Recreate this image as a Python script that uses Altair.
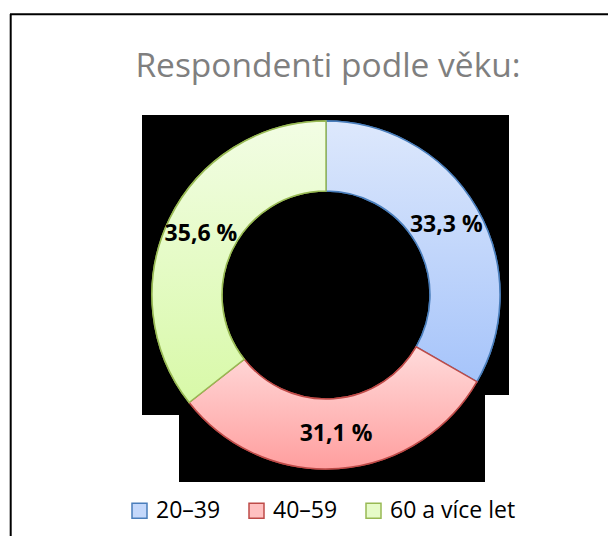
import altair as alt
import pandas as pd

categories = ["20–39", "40–59", "60 a více let"]
values = [33.3, 31.1, 35.6]
labels = ["33,3 %", "31,1 %", "35,6 %"]
order_idx = [0, 1, 2]

fill_top = ["#dde8fc", "#ffdbdb", "#f2fde4"]
fill_bottom = ["#a6c4fa", "#ff9e9e", "#d8f9a8"]
stroke_colors = ["#4a7ebb", "#be4b48", "#98b954"]
legend_fill = ["#c4d8fb", "#ffc0c0", "#e6fbc8"]

df = pd.DataFrame({"cat": categories, "val": values, "lab": labels, "idx": order_idx})
one = pd.DataFrame({"a": [0]})

W, H = 600, 528
CX, CY = 318, 287
R_OUT, R_IN = 174, 104


def grad(top, bottom):
    return {"gradient": "linear", "x1": 0, "y1": 0, "x2": 0, "y2": 1,
            "stops": [{"offset": 0, "color": top}, {"offset": 1, "color": bottom}]}


grads = [grad(t, b) for t, b in zip(fill_top, fill_bottom)]

# black background artefacts
def black_rect(x1, y1, x2, y2):
    return alt.Chart(one).mark_rect(color="black").encode(
        x=alt.value(x1), x2=alt.value(x2), y=alt.value(y1), y2=alt.value(y2))

bg = black_rect(134, 107, 501, 387) + black_rect(134, 386, 477, 407) + black_rect(171, 386, 477, 474)

border_h = alt.Chart(one).mark_rule(color="black", strokeWidth=2).encode(
    x=alt.value(2), x2=alt.value(640), y=alt.value(6.3))
border_v = alt.Chart(one).mark_rule(color="black", strokeWidth=2).encode(
    x=alt.value(2.7), y=alt.value(6), y2=alt.value(560))

title = alt.Chart(one).mark_text(
    font="Open Sans", fontSize=33.5, color="#7f7f7f", baseline="middle", align="center"
).encode(x=alt.value(320), y=alt.value(59), text=alt.value("Respondenti podle věku:"))

base = alt.Chart(df)

legend_layer = base.mark_arc(radius=R_OUT, innerRadius=R_IN, strokeWidth=1.5).encode(
    theta=alt.Theta("val:Q", stack=True),
    order=alt.Order("idx:Q"),
    fill=alt.Fill("cat:N", sort=categories,
                  scale=alt.Scale(domain=categories, range=legend_fill),
                  legend=alt.Legend(title=None)),
    stroke=alt.Stroke("cat:N", sort=categories,
                      scale=alt.Scale(domain=categories, range=stroke_colors),
                      legend=alt.Legend(title=None)),
    x=alt.value(CX), y=alt.value(CY),
)

fill_cond = alt.FillValue(
    value=grads[2],
    condition=[{"test": f"datum.cat === '{categories[0]}'", "value": grads[0]},
               {"test": f"datum.cat === '{categories[1]}'", "value": grads[1]}],
)
stroke_cond = alt.StrokeValue(
    value=stroke_colors[2],
    condition=[{"test": f"datum.cat === '{categories[0]}'", "value": stroke_colors[0]},
               {"test": f"datum.cat === '{categories[1]}'", "value": stroke_colors[1]}],
)

grad_layer = base.mark_arc(radius=R_OUT, innerRadius=R_IN, strokeWidth=1.5).encode(
    theta=alt.Theta("val:Q", stack=True),
    order=alt.Order("idx:Q"),
    fill=fill_cond,
    stroke=stroke_cond,
    x=alt.value(CX), y=alt.value(CY),
)

text_layer = base.mark_text(
    radius=(R_OUT + R_IN) / 2, font="Open Sans", fontSize=23, fontWeight="bold",
    color="black", baseline="middle", align="center"
).encode(
    theta=alt.Theta("val:Q", stack=True),
    order=alt.Order("idx:Q"),
    text="lab:N",
    x=alt.value(CX), y=alt.value(CY),
)

chart = alt.layer(bg, border_h, border_v, title, legend_layer, grad_layer, text_layer).properties(
    width=W, height=H, autosize=alt.AutoSizeParams(type="none"), padding=0
).configure_view(stroke=None).configure_legend(
    orient="none", legendX=120, legendY=491, direction="horizontal",
    symbolType="square", symbolSize=225, symbolStrokeWidth=1.5,
    labelFont="Open Sans", labelFontSize=23, labelColor="black",
    labelOffset=5, columnPadding=24, padding=0, offset=0,
)

chart.save("out.html", embed_options={"renderer": "svg", "actions": False})
